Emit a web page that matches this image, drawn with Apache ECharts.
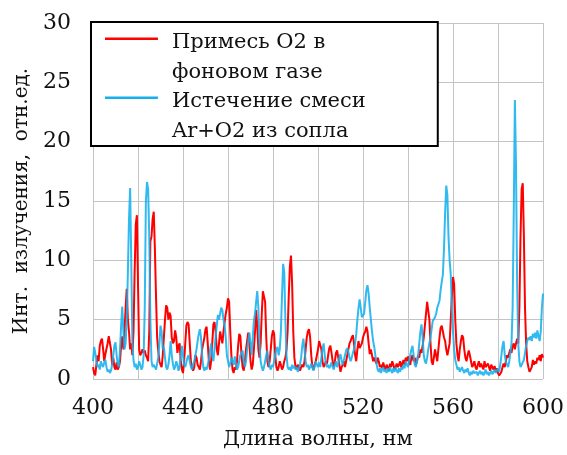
<!DOCTYPE html>
<html>
<head>
<meta charset="utf-8">
<script src="https://cdn.jsdelivr.net/npm/echarts@6/dist/echarts.min.js"></script>
<style>html,body{margin:0;padding:0;background:#fff;}#c{width:567px;height:455px;}</style>
</head>
<body>
<div id="c"></div>
<script>
// wavelength grid: start 400 nm, step 0.5 nm
const wlStart = 400;
const wlStep = 0.5;
const xTicks = [400, 440, 480, 520, 560, 600];
const seriesNames = ['Примесь O2 в\nфоновом газе', 'Истечение смеси\nAr+O2 из сопла'];

// Red: O2 admixture in background gas (400..600 nm, 0.5 nm step)
const redValues = [
 1.0,0.5,0.3,1.2,2.0,1.5,2.8,3.2,3.4,2.5,1.5,2.1,2.0,3.0,3.6,3.7,2.5,1.2,1.8,1.0,
 0.8,1.4,0.8,1.0,1.5,2.8,3.6,2.5,4.0,6.0,7.6,5.0,4.0,2.5,3.0,2.0,4.0,9.0,13.0,13.8,
 8.0,2.5,2.0,2.2,2.5,2.2,2.4,2.0,1.8,1.5,4.0,11.6,12.0,13.5,14.1,11.0,7.0,3.5,2.4,1.5,
 1.2,1.0,2.0,3.5,5.0,6.2,6.0,5.0,5.6,5.3,3.5,3.0,3.2,4.1,3.5,2.2,2.8,3.0,1.5,0.8,
 0.5,1.5,3.0,4.5,4.8,4.6,3.0,1.5,1.0,0.7,1.0,2.0,1.8,1.2,1.0,0.8,1.5,2.5,3.0,3.5,
 4.2,4.4,3.0,1.5,0.8,1.5,3.0,4.6,4.8,4.0,2.5,2.0,3.0,4.0,3.5,3.0,4.0,4.8,5.5,6.0,
 6.8,6.5,4.0,2.0,0.8,0.5,1.0,0.8,1.5,2.8,3.8,3.6,2.0,1.0,0.7,1.5,2.5,3.2,3.9,3.0,
 1.5,0.8,1.2,2.5,4.0,5.8,4.5,2.5,1.8,3.0,5.5,7.4,7.4,6.5,3.5,1.5,1.0,1.5,2.5,3.6,
 4.1,3.8,2.0,1.0,0.7,1.0,1.5,1.2,0.8,1.0,1.5,1.8,2.5,4.0,7.0,9.5,10.4,8.0,4.0,1.8,
 1.0,0.8,1.2,1.0,0.7,1.0,1.2,1.0,1.5,2.5,3.5,4.0,4.2,3.5,2.0,1.0,0.8,1.2,1.5,2.0,
 2.5,3.2,3.3,2.5,1.5,1.0,1.2,1.5,1.3,2.0,2.6,2.8,2.2,1.5,1.0,1.5,2.2,2.4,1.8,1.2,
 0.6,1.0,1.2,1.5,1.0,1.5,2.0,2.5,3.0,3.2,3.5,3.7,3.0,2.0,1.5,2.5,3.2,2.6,2.5,3.0,
 3.5,3.8,4.0,4.4,4.0,3.0,2.1,2.5,2.0,1.5,1.8,1.5,1.3,1.8,1.5,1.0,1.2,0.9,1.4,1.0,
 0.8,1.2,1.0,0.7,1.3,1.0,1.5,1.2,0.8,1.0,1.3,1.0,1.2,1.5,1.0,1.3,1.6,1.2,1.8,1.5,
 1.9,1.4,1.2,1.8,2.0,1.5,1.8,1.2,1.5,2.0,1.8,2.5,2.2,2.8,3.5,4.5,5.5,6.5,6.6,5.0,
 3.0,1.5,1.2,1.8,2.5,2.0,1.5,2.5,3.5,4.3,4.5,4.0,3.5,3.2,2.5,2.0,2.5,3.0,5.0,7.0,
 8.6,8.0,5.0,3.0,2.0,1.5,2.5,3.2,3.7,3.5,2.5,1.8,1.5,2.0,2.4,2.0,1.5,1.0,1.2,1.5,
 1.0,0.8,1.2,1.5,1.0,1.3,1.2,0.8,1.5,1.0,0.9,1.3,1.0,0.7,1.2,1.0,0.8,1.1,0.6,0.9,
 0.5,0.3,0.2,0.6,1.0,1.3,1.0,1.5,2.0,1.8,2.2,2.5,2.2,2.8,3.0,2.5,3.0,3.4,3.0,6.0,
 12.0,16.0,16.5,12.0,6.0,3.0,1.5,1.0,0.6,0.5,1.0,1.6,1.2,1.5,1.3,1.8,1.6,2.0,1.5,2.1,
 1.8
];

// Blue: outflow of Ar+O2 mixture from nozzle (400..600 nm, 0.5 nm step)
const blueValues = [
 1.5,2.7,2.2,1.5,1.0,1.2,0.8,1.5,1.2,1.0,1.4,1.6,1.0,0.6,0.8,0.5,0.7,1.2,2.0,2.8,
 3.1,2.0,1.2,1.0,2.5,4.5,6.1,4.0,2.5,3.0,5.0,9.0,13.5,16.1,10.0,3.0,1.6,1.0,1.3,0.8,
 1.0,1.5,1.2,0.8,1.0,2.0,6.0,15.0,16.6,16.0,12.0,5.0,1.5,1.0,1.2,1.0,0.8,1.3,1.8,3.0,
 4.5,4.0,2.5,2.7,1.8,1.0,0.8,1.2,2.0,3.2,2.0,1.3,0.8,1.0,1.5,1.2,0.7,1.0,2.0,2.8,
 2.0,1.2,1.0,1.4,1.8,2.0,1.5,1.0,0.8,1.2,1.5,2.0,2.5,3.2,3.8,4.2,3.5,2.0,1.0,0.7,
 1.0,0.8,1.2,1.6,2.4,3.0,2.0,1.5,2.5,3.5,4.5,5.4,5.0,5.5,6.0,5.8,5.0,4.5,3.5,2.0,
 1.5,1.0,1.3,1.8,1.5,1.2,1.9,1.2,0.8,1.0,1.5,2.0,2.2,2.4,1.5,1.0,1.5,2.5,3.2,3.9,
 3.0,2.0,3.5,4.9,5.5,6.5,7.4,6.0,3.0,1.5,1.0,0.7,1.0,1.5,2.0,2.4,1.5,1.0,0.8,1.2,
 1.0,1.5,2.0,2.5,2.7,2.0,2.5,4.0,7.0,9.7,9.0,5.0,2.0,1.0,0.8,1.0,0.7,1.2,0.9,1.1,
 0.8,1.0,0.6,0.9,1.2,1.8,2.8,3.4,2.5,1.5,1.0,1.2,0.8,1.0,1.3,1.0,0.7,1.0,1.5,1.2,
 1.0,1.4,1.0,1.8,2.5,3.0,2.0,1.3,1.0,1.2,0.9,1.1,1.4,1.0,0.8,1.2,1.5,1.0,1.3,1.8,
 2.1,1.5,1.2,1.6,2.0,2.4,2.6,2.3,1.8,1.5,1.8,2.2,2.5,3.0,3.8,5.0,6.0,6.7,6.0,5.2,
 5.2,5.5,6.5,7.5,7.9,7.2,6.0,5.0,4.0,3.2,2.7,2.0,1.3,0.8,0.6,0.9,0.5,0.8,1.0,0.6,
 0.8,0.5,0.9,0.6,1.0,0.7,0.5,0.9,0.6,1.0,0.7,0.5,0.9,0.6,1.0,0.8,1.2,0.9,1.5,1.2,
 1.0,1.5,2.0,2.5,2.8,2.0,1.2,1.0,1.5,2.0,3.0,4.0,4.6,3.5,2.0,1.5,1.3,1.8,2.5,3.0,
 3.5,4.2,4.9,5.0,5.2,5.5,6.0,6.3,6.6,7.5,8.2,8.8,11.0,14.0,16.3,15.5,12.0,10.0,8.8,6.0,
 4.0,2.5,1.6,1.2,0.8,1.0,0.6,0.8,1.0,0.7,0.5,0.8,0.6,0.9,0.5,0.3,0.6,0.4,0.7,0.5,
 0.4,0.6,0.3,0.5,0.7,0.4,0.6,0.3,0.5,0.8,0.4,0.6,0.3,0.5,0.7,0.4,0.6,0.8,0.5,0.7,
 0.9,0.6,1.2,2.0,2.8,3.2,2.0,1.5,1.2,1.0,1.5,2.2,3.0,6.0,14.0,23.5,18.0,8.0,3.0,1.5,
 1.0,1.2,1.4,1.6,2.2,2.8,3.2,3.5,3.3,3.6,3.2,3.8,3.5,3.9,3.4,4.1,3.6,3.2,4.0,6.0,
 7.2
];

function toPairs(vals) {
  return vals.map((v, i) => [wlStart + i * wlStep, v]);
}

const chart = echarts.init(document.getElementById('c'), null, {renderer: 'canvas'});
const serif = 'DejaVu Serif';
const iconPath = 'path://M0,0H53V2.4H0Z M0,40H0.05V40.05H0Z';

chart.setOption({
  animation: false,
  backgroundColor: '#ffffff',
  grid: {left: 93, right: 19, top: 23, bottom: 69, containLabel: false},
  legend: {
    orient: 'vertical',
    left: 91,
    top: 22,
    padding: [6, 72, 0, 14],
    itemGap: 0,
    itemWidth: 53,
    itemHeight: 40,
    icon: iconPath,
    itemStyle: {borderWidth: 0},
    backgroundColor: '#ffffff',
    borderColor: '#000000',
    borderWidth: 2,
    textStyle: {fontFamily: serif, fontSize: 21, color: '#111111', lineHeight: 29.5, padding: [0, 0, 0, 9]},
    data: seriesNames
  },
  xAxis: {
    type: 'value',
    min: 400,
    max: 600,
    interval: 20,
    name: 'Длина волны, нм',
    nameLocation: 'middle',
    nameGap: 50,
    nameTextStyle: {fontFamily: serif, fontSize: 21, color: '#111111'},
    axisLine: {show: false},
    axisTick: {show: false},
    axisLabel: {
      margin: 18,
      fontFamily: serif, fontSize: 22, color: '#111111',
      formatter: v => (xTicks.indexOf(v) >= 0 ? String(v) : '')
    },
    splitLine: {show: true, lineStyle: {color: '#c4c4c4', width: 1}}
  },
  yAxis: {
    type: 'value',
    min: 0,
    max: 30,
    interval: 5,
    name: 'Инт.  излучения,  отн.ед.',
    nameLocation: 'middle',
    nameGap: 58,
    nameTextStyle: {fontFamily: serif, fontSize: 20, color: '#111111'},
    axisLine: {show: false},
    axisTick: {show: false},
    axisLabel: {margin: 22, fontFamily: serif, fontSize: 22, color: '#111111'},
    splitLine: {show: true, lineStyle: {color: '#c4c4c4', width: 1}}
  },
  series: [
    {
      name: seriesNames[0], type: 'line', showSymbol: false, symbol: 'none',
      data: toPairs(redValues),
      itemStyle: {color: '#ff0000'},
      lineStyle: {color: '#ff0000', width: 2},
      z: 2
    },
    {
      name: seriesNames[1], type: 'line', showSymbol: false, symbol: 'none',
      data: toPairs(blueValues),
      itemStyle: {color: '#14b0ee'},
      lineStyle: {color: '#14b0ee', width: 2, opacity: 0.88},
      z: 3
    }
  ]
});
</script>
</body>
</html>
